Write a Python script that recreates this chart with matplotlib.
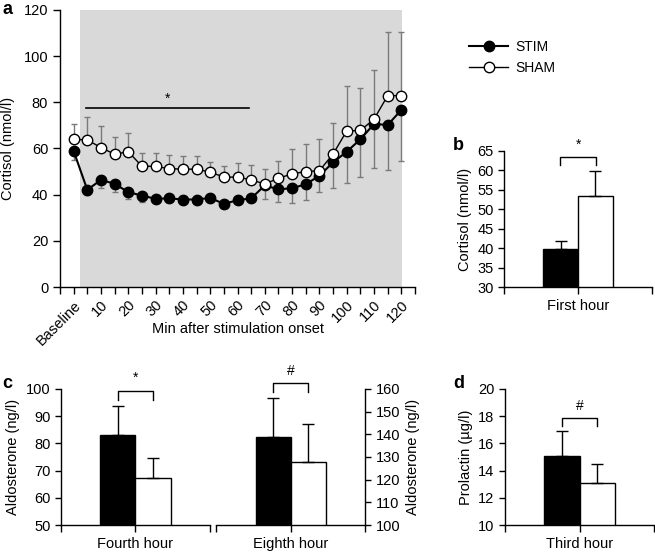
import numpy as np
import matplotlib.pyplot as plt

plt.rcParams['font.family'] = ['Liberation Sans', 'DejaVu Sans']
plt.rcParams['font.size'] = 10
plt.rcParams['axes.linewidth'] = 1.0
plt.rcParams['xtick.major.width'] = 1.0
plt.rcParams['ytick.major.width'] = 1.0
plt.rcParams['xtick.minor.width'] = 1.0

# panel a: cortisol time course
timepoints = ['Baseline', '5', '10', '15', '20', '25', '30', '35', '40', '45', '50', '55', '60',
              '65', '70', '75', '80', '85', '90', '95', '100', '105', '110', '115', '120']
stim_mean = [58.9, 42.1, 46.4, 44.7, 41.1, 39.6, 38.2, 38.4, 37.9, 37.9, 38.6, 36.0, 37.6,
             38.4, 44.0, 42.3, 42.8, 44.5, 48.2, 54.0, 58.6, 64.0, 70.6, 70.2, 76.7]
stim_sem = [3.9, 2.3, 3.6, 3.4, 2.8, 2.6, 1.5, 1.6, 1.4, 1.4, 1.5, 1.4, 1.5,
            1.5, 6.0, 5.3, 6.5, 6.9, 7.2, 11.2, 13.4, 16.2, 19.2, 19.5, 22.0]
sham_mean = [64.0, 63.7, 60.4, 57.5, 58.6, 52.3, 52.3, 51.2, 51.1, 51.0, 49.8, 47.6, 47.6,
             46.4, 44.6, 47.1, 49.0, 50.0, 50.4, 57.6, 67.6, 67.8, 72.7, 82.9, 82.9]
sham_sem = [6.5, 9.8, 9.5, 7.6, 8.0, 5.9, 5.9, 6.0, 5.7, 5.8, 4.5, 5.0, 6.0,
            6.5, 6.5, 7.6, 10.7, 11.8, 13.6, 13.3, 19.6, 18.3, 21.3, 27.4, 27.4]

# panel b: cortisol, first hour
b_label = 'First hour'
b_stim, b_stim_err = 39.8, 2.1
b_sham, b_sham_err = 53.5, 6.4

# panel c: aldosterone
c_labels = ['Fourth hour', 'Eighth hour']
c_stim = [83.2, 139.0]
c_stim_err = [10.6, 16.9]
c_sham = [67.2, 127.9]
c_sham_err = [7.6, 16.5]

# panel d: prolactin
d_label = 'Third hour'
d_stim, d_stim_err = 15.1, 1.8
d_sham, d_sham_err = 13.1, 1.35

fig = plt.figure(figsize=(6.55, 5.53), dpi=100)


def bar_panel(ax, stim, stim_err, sham, sham_err, label, mark, by, drop):
    w = 0.47
    ax.bar(-w / 2, stim, width=w, color='black', edgecolor='black', linewidth=1,
           yerr=[[0], [stim_err]], error_kw=dict(ecolor='black', elinewidth=1, capsize=4, capthick=1))
    ax.bar(w / 2, sham, width=w, color='white', edgecolor='black', linewidth=1,
           yerr=[[0], [sham_err]], error_kw=dict(ecolor='black', elinewidth=1, capsize=4, capthick=1))
    ax.set_xlim(-1, 1)
    ax.set_xticks([-1, 0, 1])
    ax.set_xticklabels(['', label, ''])
    ax.tick_params(axis='x', length=5, labelsize=10.5)
    ax.tick_params(axis='y', length=4, labelsize=10.5)
    ax.spines['top'].set_visible(False)
    ax.spines['right'].set_visible(False)
    ax.plot([-0.24, -0.24, 0.24, 0.24], [by - drop, by, by, by - drop], color='black', lw=1, clip_on=False)
    ax.text(0, by + drop * 0.6, mark, ha='center', va='bottom', fontsize=10)


# ---- panel a
ax = fig.add_axes([0.0916, 0.481, 0.542, 0.501])
x = np.arange(len(timepoints))
ax.axvspan(0.45, 24.02, color='#d9d9d9', lw=0, zorder=0)
ax.errorbar(x, stim_mean, yerr=[stim_sem, np.zeros(len(x))], fmt='none', ecolor='#7a7a7a',
            elinewidth=1, capsize=2.4, capthick=1, zorder=2)
ax.errorbar(x, sham_mean, yerr=[np.zeros(len(x)), sham_sem], fmt='none', ecolor='#7a7a7a',
            elinewidth=1, capsize=2.4, capthick=1, zorder=2)
ax.plot(x, stim_mean, '-o', color='black', lw=1.5, ms=7.5, mfc='black', mec='black', zorder=3, label='STIM')
ax.plot(x, sham_mean, '-o', color='black', lw=1.0, ms=7.5, mfc='white', mec='black', mew=1.0,
        zorder=4, label='SHAM')
ax.plot([0.87, 12.83], [77.4, 77.4], color='black', lw=1.2)
ax.text(6.9, 78.5, '*', ha='center', va='bottom', fontsize=10)
ax.set_xlim(-1, 25)
ax.set_ylim(0, 120)
ax.set_yticks(range(0, 121, 20))
ax.set_xticks(x[::2])
ax.set_xticklabels(timepoints[::2], rotation=45, ha='right', rotation_mode='anchor')
ax.set_xticks(np.arange(-1, 26, 2), minor=True)
ax.tick_params(axis='x', which='both', length=5, labelsize=10.5, pad=3)
ax.tick_params(axis='y', length=5, labelsize=10.5)
ax.spines['top'].set_visible(False)
ax.spines['right'].set_visible(False)
ax.set_ylabel('Cortisol (nmol/l)', fontsize=10.5, labelpad=6)
ax.set_xlabel('Min after stimulation onset', fontsize=10.5)
ax.xaxis.set_label_coords(0.5, -0.128)
fig.legend(loc='upper left', bbox_to_anchor=(0.706, 0.941), frameon=False, borderpad=0,
           handlelength=2.8, handletextpad=0.5, labelspacing=0.55, fontsize=10)
fig.text(0.004, 0.998, 'a', fontsize=13, fontweight='bold', va='top')

# ---- panel b
ax = fig.add_axes([0.7695, 0.481, 0.226, 0.246])
bar_panel(ax, b_stim, b_stim_err, b_sham, b_sham_err, b_label, '*', 63.5, 2.1)
ax.set_ylim(30, 65)
ax.set_yticks(range(30, 66, 5))
ax.set_ylabel('Cortisol (nmol/l)', fontsize=10.5, labelpad=4)
fig.text(0.692, 0.753, 'b', fontsize=13, fontweight='bold', va='top')

# ---- panel c
ax = fig.add_axes([0.0931, 0.0506, 0.2275, 0.246])
bar_panel(ax, c_stim[0], c_stim_err[0], c_sham[0], c_sham_err[0], c_labels[0], '*', 99.4, 3.4)
ax.set_ylim(50, 100)
ax.set_yticks(range(50, 101, 10))
ax.set_ylabel('Aldosterone (ng/l)', fontsize=10.5, labelpad=4)
fig.text(0.004, 0.322, 'c', fontsize=13, fontweight='bold', va='top')

ax = fig.add_axes([0.3298, 0.0506, 0.2275, 0.246])
bar_panel(ax, c_stim[1], c_stim_err[1], c_sham[1], c_sham_err[1], c_labels[1], '#', 162.5, 3.7)
ax.set_ylim(100, 160)
ax.set_yticks(range(100, 161, 10))
ax.spines['left'].set_visible(False)
ax.spines['right'].set_visible(True)
ax.yaxis.tick_right()
ax.yaxis.set_label_position('right')
ax.set_ylabel('Aldosterone (ng/l)', fontsize=10.5, labelpad=4)

# ---- panel d
ax = fig.add_axes([0.771, 0.0506, 0.2275, 0.246])
bar_panel(ax, d_stim, d_stim_err, d_sham, d_sham_err, d_label, '#', 17.9, 0.6)
ax.set_ylim(10, 20)
ax.set_yticks(range(10, 21, 2))
ax.set_ylabel('Prolactin (µg/l)', fontsize=10.5, labelpad=4)
fig.text(0.692, 0.322, 'd', fontsize=13, fontweight='bold', va='top')

fig.savefig('out.png', dpi=100)
